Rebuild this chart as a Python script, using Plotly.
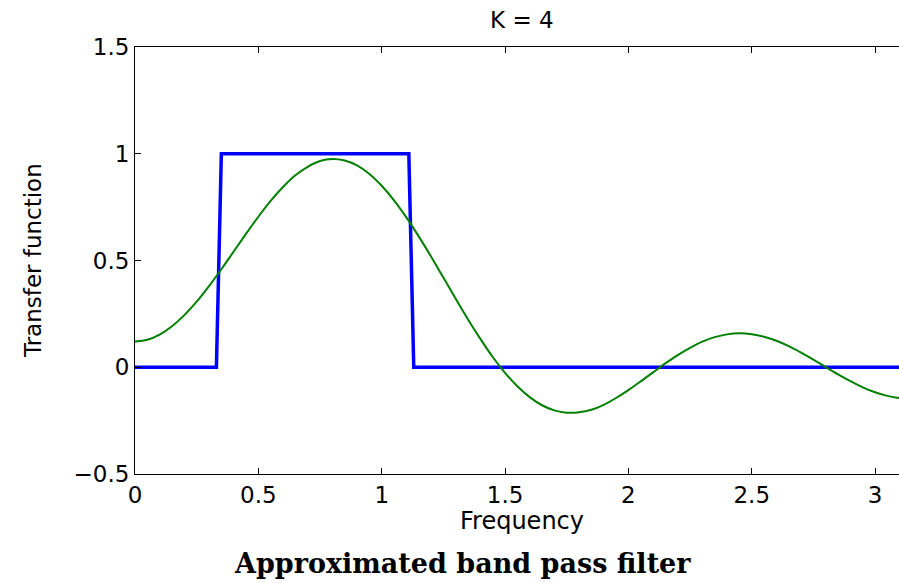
import plotly.graph_objects as go

# Ideal band pass filter (blue)
ideal_x = [0.0, 0.33, 0.35, 1.11, 1.13, 3.1]
ideal_y = [0.0, 0.0, 1.0, 1.0, 0.0, 0.0]

# Approximation with K = 4 terms (green)
approx_x = [0.00, 0.05, 0.10, 0.15, 0.20, 0.25, 0.30, 0.35, 0.40, 0.45, 0.50, 0.55, 0.60, 0.65,
            0.70, 0.75, 0.80, 0.85, 0.90, 0.95, 1.00, 1.05, 1.10, 1.15, 1.20, 1.25, 1.30, 1.35,
            1.40, 1.45, 1.50, 1.55, 1.60, 1.65, 1.70, 1.75, 1.80, 1.85, 1.90, 1.95, 2.00, 2.05,
            2.10, 2.15, 2.20, 2.25, 2.30, 2.35, 2.40, 2.45, 2.50, 2.55, 2.60, 2.65, 2.70, 2.75,
            2.80, 2.85, 2.90, 2.95, 3.00, 3.05, 3.10]
approx_y = [0.121, 0.129, 0.153, 0.192, 0.244, 0.307, 0.380, 0.459, 0.542, 0.625, 0.705, 0.779,
            0.844, 0.899, 0.939, 0.966, 0.975, 0.968, 0.945, 0.905, 0.850, 0.782, 0.702, 0.613,
            0.519, 0.420, 0.321, 0.224, 0.133, 0.048, -0.026, -0.089, -0.140, -0.178, -0.202,
            -0.213, -0.211, -0.199, -0.176, -0.144, -0.107, -0.066, -0.024, 0.018, 0.057, 0.091,
            0.120, 0.141, 0.154, 0.159, 0.155, 0.143, 0.124, 0.099, 0.069, 0.036, 0.001, -0.033,
            -0.065, -0.094, -0.117, -0.134, -0.145]

x_ticks = [0, 0.5, 1, 1.5, 2, 2.5, 3]
x_tick_labels = ["0", "0.5", "1", "1.5", "2", "2.5", "3"]
y_ticks = [-0.5, 0, 0.5, 1, 1.5]
y_tick_labels = ["\u22120.5", "0", "0.5", "1", "1.5"]

title_text = "K = 4"
x_label = "Frequency"
y_label = "Transfer function"
caption = "Approximated band pass filter"

sans = "DejaVu Sans"
fig = go.Figure()
fig.add_trace(go.Scatter(x=ideal_x, y=ideal_y, mode="lines",
                         line=dict(color="rgb(0,0,255)", width=3.5), showlegend=False))
fig.add_trace(go.Scatter(x=approx_x, y=approx_y, mode="lines",
                         line=dict(color="rgb(0,128,0)", width=2, shape="spline", smoothing=1),
                         showlegend=False))

fig.update_layout(
    width=899, height=583,
    margin=dict(l=135, r=0, t=47, b=109),
    paper_bgcolor="white", plot_bgcolor="white",
    xaxis=dict(range=[0, 3.097], tickvals=x_ticks, ticktext=x_tick_labels,
               showgrid=False, zeroline=False, showline=True, linecolor="black", linewidth=1,
               mirror="ticks", ticks="inside", ticklen=6, tickcolor="black",
               tickfont=dict(family=sans, size=23, color="black")),
    yaxis=dict(range=[-0.5, 1.5], tickvals=y_ticks, ticktext=y_tick_labels,
               showgrid=False, zeroline=False, showline=True, linecolor="black", linewidth=1,
               mirror=False, ticks="inside", ticklen=6, tickcolor="black",
               tickfont=dict(family=sans, size=23, color="black")),
)


def px_to_paper_x(px):
    return (px - 135) / 764


def px_to_paper_y(py):
    return (474 - py) / 427


fig.add_annotation(text=title_text, xref="paper", yref="paper",
                   x=px_to_paper_x(522), y=px_to_paper_y(20), showarrow=False,
                   font=dict(family=sans, size=23, color="black"), xanchor="center", yanchor="middle")
fig.add_annotation(text=x_label, xref="paper", yref="paper",
                   x=px_to_paper_x(522), y=px_to_paper_y(521), showarrow=False,
                   font=dict(family=sans, size=24, color="black"), xanchor="center", yanchor="middle")
fig.add_annotation(text=y_label, xref="paper", yref="paper",
                   x=px_to_paper_x(33), y=px_to_paper_y(261), showarrow=False, textangle=-90,
                   font=dict(family=sans, size=23, color="black"), xanchor="center", yanchor="middle")
fig.add_annotation(text="<b>" + caption + "</b>", xref="paper", yref="paper",
                   x=px_to_paper_x(462), y=px_to_paper_y(563), showarrow=False,
                   font=dict(family="DejaVu Serif", size=27, color="black"),
                   xanchor="center", yanchor="middle")

fig.write_html("out.html")
